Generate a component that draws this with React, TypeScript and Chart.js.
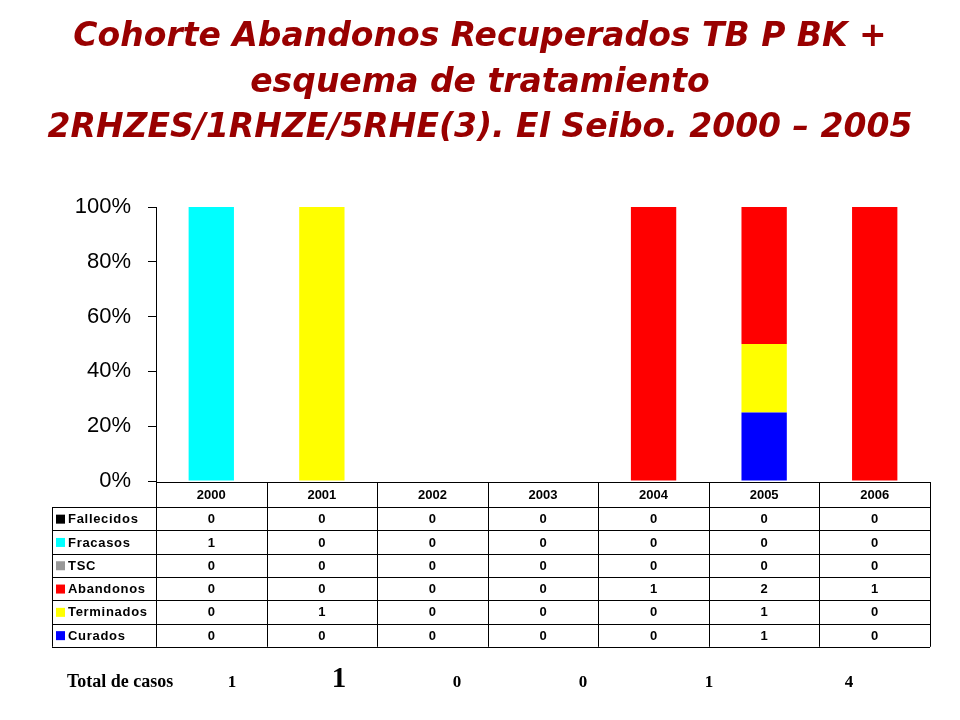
import React, { useEffect, useRef } from 'react';
import { Chart, registerables } from 'chart.js';

Chart.register(...registerables);

// Years of the cohort (x categories)
const years = ['2000', '2001', '2002', '2003', '2004', '2005', '2006'];

// Case counts per outcome
const curados = [0, 0, 0, 0, 0, 1, 0];
const terminados = [0, 1, 0, 0, 0, 1, 0];
const abandonos = [0, 0, 0, 0, 1, 2, 1];
const tsc = [0, 0, 0, 0, 0, 0, 0];
const fracasos = [1, 0, 0, 0, 0, 0, 0];
const fallecidos = [0, 0, 0, 0, 0, 0, 0];

// "Total de casos" row as printed on the slide
const totalLabels = ['1', '1', '0', '0', '1', '4'];

const titleLines = [
  'Cohorte Abandonos Recuperados TB P BK +',
  'esquema de tratamiento',
  '2RHZES/1RHZE/5RHE(3). El Seibo. 2000 – 2005',
];

// stacking order, bottom first
const series = [
  { label: 'Curados', counts: curados, color: '#0000FF' },
  { label: 'Terminados', counts: terminados, color: '#FFFF00' },
  { label: 'Abandonos', counts: abandonos, color: '#FF0000' },
  { label: 'TSC', counts: tsc, color: '#999999' },
  { label: 'Fracasos', counts: fracasos, color: '#00FFFF' },
  { label: 'Fallecidos', counts: fallecidos, color: '#000000' },
];

const totals = years.map((_, i) => series.reduce((s, d) => s + d.counts[i], 0));
const pct = (counts: number[]) => counts.map((c, i) => (totals[i] ? (c / totals[i]) * 100 : 0));

// title, data table and totals row drawn on the same canvas
const slidePlugin = {
  id: 'slide',
  afterDraw(chart: any) {
    const { ctx, chartArea } = chart;
    const x = chart.scales.x;
    const left = chartArea.left;
    const right = chartArea.right;
    const colW = (right - left) / years.length;
    const top = chartArea.bottom + 1;
    const headH = 25;
    const rowH = 23.3;
    const legendLeft = 52;
    const rows = [...series].reverse();
    const bottom = top + headH + rowH * rows.length;

    ctx.save();

    // title
    ctx.fillStyle = '#990000';
    ctx.font = 'italic bold 33px "DejaVu Sans", sans-serif';
    ctx.textAlign = 'center';
    ctx.textBaseline = 'alphabetic';
    [46, 92, 137].forEach((y, i) => ctx.fillText(titleLines[i], 480, y, 915));

    // grid lines of the table
    ctx.strokeStyle = '#000';
    ctx.lineWidth = 1;
    ctx.beginPath();
    ctx.moveTo(left, top + 0.5);
    ctx.lineTo(right, top + 0.5);
    for (let r = 0; r <= rows.length; r++) {
      const y = Math.round(top + headH + r * rowH) + 0.5;
      ctx.moveTo(legendLeft, y);
      ctx.lineTo(right, y);
    }
    ctx.moveTo(legendLeft + 0.5, top + headH);
    ctx.lineTo(legendLeft + 0.5, bottom);
    for (let c = 0; c <= years.length; c++) {
      const xx = Math.round(left + c * colW) + 0.5;
      ctx.moveTo(xx, top);
      ctx.lineTo(xx, bottom);
    }
    ctx.stroke();

    // header with years
    ctx.fillStyle = '#000';
    ctx.font = 'bold 13px "Liberation Sans", Arial, sans-serif';
    ctx.textAlign = 'center';
    ctx.textBaseline = 'middle';
    years.forEach((yr, i) => ctx.fillText(yr, x.getPixelForValue(i), top + headH / 2 + 1));

    // rows
    rows.forEach((s, r) => {
      const cy = top + headH + r * rowH + rowH / 2 + 1;
      ctx.fillStyle = s.color;
      ctx.fillRect(legendLeft + 4, cy - 5, 9, 9);
      ctx.fillStyle = '#000';
      ctx.textAlign = 'left';
      ctx.font = 'bold 13px "Liberation Sans", Arial, sans-serif';
      (ctx as any).letterSpacing = '0.7px';
      ctx.fillText(s.label, legendLeft + 16, cy);
      (ctx as any).letterSpacing = '0px';
      ctx.textAlign = 'center';
      s.counts.forEach((v, i) => ctx.fillText(String(v), x.getPixelForValue(i), cy));
    });

    // totals row
    ctx.textBaseline = 'alphabetic';
    ctx.textAlign = 'left';
    ctx.font = 'bold 18px "Liberation Serif", "Times New Roman", serif';
    ctx.fillText('Total de casos', 67, 687);
    const totalX = [232, 339, 457, 583, 709, 849];
    ctx.textAlign = 'center';
    totalLabels.forEach((t, i) => {
      ctx.font = i === 1
        ? 'bold 29px "Liberation Serif", "Times New Roman", serif'
        : 'bold 17px "Liberation Serif", "Times New Roman", serif';
      ctx.fillText(t, totalX[i], 687);
    });

    ctx.restore();
  },
};

const App: React.FC = () => {
  const ref = useRef<HTMLCanvasElement>(null);

  useEffect(() => {
    if (!ref.current) return;

    const chart = new Chart(ref.current, {
      type: 'bar',
      data: {
        labels: years,
        datasets: series.map((s) => ({
          label: s.label,
          data: pct(s.counts),
          backgroundColor: s.color,
          borderWidth: 0,
          barPercentage: 0.41,
          categoryPercentage: 1,
        })),
      },
      options: {
        responsive: false,
        animation: false,
        layout: { padding: { top: 207, bottom: 239, left: 0, right: 30 } },
        plugins: {
          legend: { display: false },
          tooltip: { enabled: false },
          title: { display: false },
        },
        scales: {
          x: {
            stacked: true,
            display: false,
          },
          y: {
            stacked: true,
            min: 0,
            max: 100,
            afterFit: (scale: any) => {
              scale.width = 156;
            },
            border: { display: true, color: '#000', width: 1 },
            grid: {
              drawOnChartArea: false,
              drawTicks: true,
              tickLength: 8,
              color: '#000',
            },
            ticks: {
              stepSize: 20,
              padding: 17,
              color: '#000',
              font: { family: '"Liberation Sans", Arial, sans-serif', size: 22 },
              callback: (v: any) => v + '%',
            },
          },
        },
      },
      plugins: [slidePlugin],
    });

    return () => {
      chart.destroy();
    };
  }, []);

  return (
    <div style={{ position: 'absolute', left: 0, top: 0, width: 960, height: 720, background: '#fff' }}>
      <canvas ref={ref} width={960} height={720} />
    </div>
  );
};

export default App;
